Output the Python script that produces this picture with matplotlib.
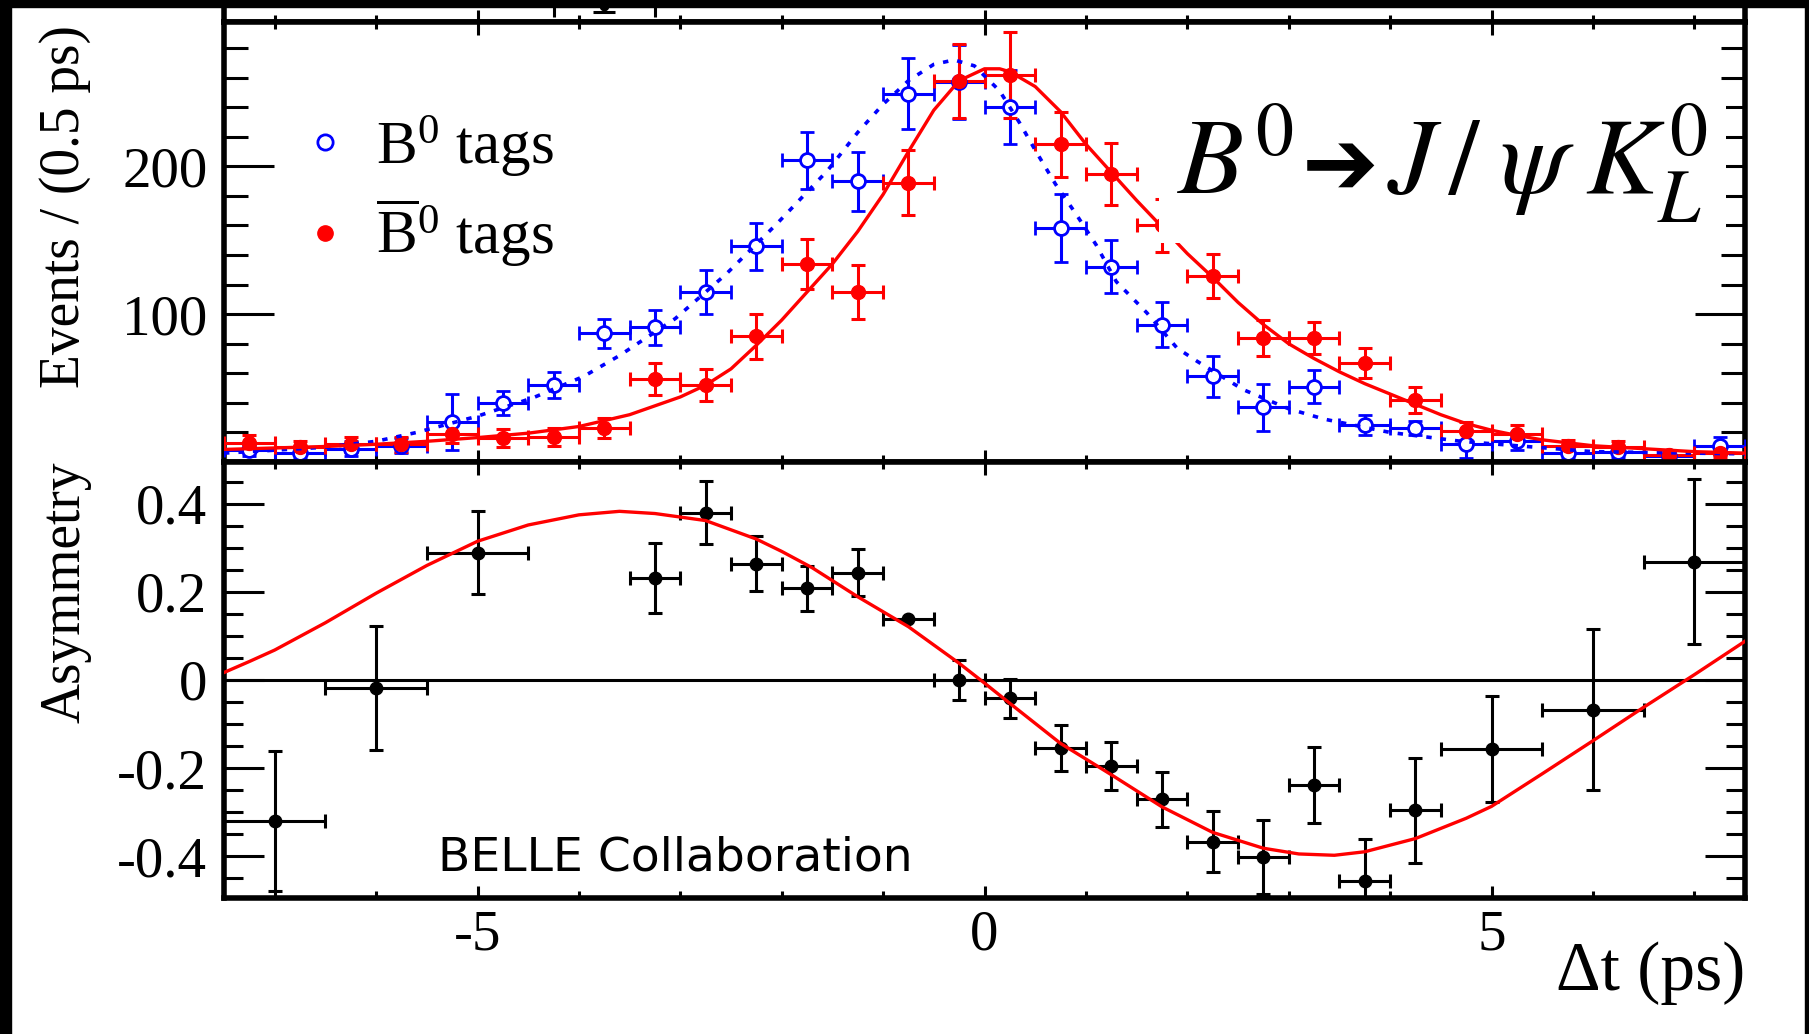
import matplotlib
matplotlib.use('Agg')
import matplotlib.pyplot as plt
from matplotlib.lines import Line2D
from matplotlib.patches import Rectangle
from matplotlib.offsetbox import TextArea, HPacker, AnnotationBbox
from matplotlib.ticker import MultipleLocator, FixedLocator, FormatStrFormatter

plt.rcParams['font.family'] = ['Liberation Serif', 'DejaVu Sans']
plt.rcParams['mathtext.fontset'] = 'stix'
plt.rcParams['axes.unicode_minus'] = False

# --- top panel: events per 0.5 ps bin ---
t_bins = [-7.25, -6.75, -6.25, -5.75, -5.25, -4.75, -4.25, -3.75, -3.25, -2.75,
          -2.25, -1.75, -1.25, -0.75, -0.25, 0.25, 0.75, 1.25, 1.75, 2.25,
          2.75, 3.25, 3.75, 4.25, 4.75, 5.25, 5.75, 6.25, 6.75, 7.25]
b0_n = [8, 6, 9, 11, 27, 40, 52, 87, 91, 115, 146, 204, 190, 249, 257,
        240, 158, 132, 93, 58, 37, 51, 25, 23, 12, 14, 6, 7, 4, 11]
b0_err = [4, 4, 5, 5, 19, 8, 9, 10, 12, 15, 16, 19, 20, 24, 25,
          25, 23, 18, 15, 14, 16, 11, 7, 5, 9, 6, 4, 4, 4, 6]
b0bar_n = [13, 10, 12, 12, 19, 16, 17, 23, 56, 52, 85, 134, 115, 189, 258,
           262, 215, 195, 160, 126, 84, 84, 67, 42, 21, 19, 11, 10, 5, 6]
b0bar_err = [5, 4, 5, 5, 6, 6, 6, 7, 11, 11, 15, 17, 18, 22, 25,
             29, 22, 21, 18, 15, 12, 11, 10, 9, 6, 6, 4, 4, 3, 3]
bin_half = 0.25

# fit curves
fit_bar_t = [-7.5, -7.0, -6.5, -6.0, -5.5, -5.0, -4.5, -4.0, -3.5, -3.0, -2.75, -2.5,
             -2.25, -2.0, -1.75, -1.5, -1.25, -1.0, -0.75, -0.5, -0.25, 0.0, 0.15,
             0.25, 0.5, 0.75, 1.0, 1.25, 1.5, 1.75, 2.0, 2.25, 2.5, 2.75, 3.0, 3.25,
             3.5, 3.75, 4.0, 4.25, 4.5, 4.75, 5.0, 5.25, 5.5, 5.75, 6.0, 6.5, 7.0, 7.5]
fit_bar_n = [8.5, 9.5, 10.5, 12, 14, 16.5, 19.5, 24, 32, 44, 52, 63,
             79, 96, 115, 134, 156, 181, 210, 238, 258, 266, 266,
             264, 254, 237, 215, 196, 177, 159, 141, 125, 108, 93, 80, 70,
             61, 53, 46, 39, 32, 26, 21.5, 18, 15, 13, 11, 9, 7, 6]
fit_b0_t = [-7.5, -7.0, -6.5, -6.0, -5.6, -5.0, -4.45, -3.95, -3.6, -3.05, -2.55,
            -2.05, -1.8, -1.55, -1.25, -1.0, -0.75, -0.5, -0.3, -0.1, 0.15, 0.35,
            0.5, 0.7, 0.9, 1.1, 1.3, 1.6, 1.9, 2.1, 2.55, 3.0, 3.35, 4.0, 4.7,
            5.25, 6.0, 7.5]
fit_b0_n = [6, 8, 10, 14, 20, 31, 43.5, 58, 72, 97, 127,
            161, 179, 197, 223, 242, 258, 269, 272, 268, 251, 229,
            211, 188, 168, 147, 122, 101, 77, 68, 49, 36, 29, 20, 14,
            11, 7, 5.5]

# --- bottom panel: asymmetry ---
asym_t = [-7.0, -6.0, -5.0, -3.25, -2.75, -2.25, -1.75, -1.25, -0.75, -0.25, 0.25,
          0.75, 1.25, 1.75, 2.25, 2.75, 3.25, 3.75, 4.25, 5.0, 6.0, 7.0]
asym_terr = [0.5, 0.5, 0.5, 0.25, 0.25, 0.25, 0.25, 0.25, 0.25, 0.25, 0.25,
             0.25, 0.25, 0.25, 0.25, 0.25, 0.25, 0.25, 0.25, 0.5, 0.5, 0.5]
asym_a = [-0.32, -0.019, 0.289, 0.232, 0.380, 0.264, 0.208, 0.244, 0.138, 0.0, -0.042,
          -0.154, -0.195, -0.271, -0.367, -0.403, -0.239, -0.457, -0.296, -0.157, -0.067, 0.269]
asym_err = [0.159, 0.141, 0.094, 0.08, 0.072, 0.063, 0.051, 0.054, 0.0, 0.045, 0.044,
            0.052, 0.054, 0.062, 0.07, 0.084, 0.086, 0.095, 0.12, 0.12, 0.182, 0.187]
asym_fit_t = [-7.5, -7.25, -7.0, -6.75, -6.5, -6.0, -5.5, -5.0, -4.5, -4.0, -3.6, -3.25,
              -2.75, -2.25, -2.0, -1.7, -1.25, -0.75, -0.25, 0.0, 0.25, 0.75, 1.25, 1.75,
              2.25, 2.75, 3.1, 3.45, 3.75, 4.25, 4.75, 5.0, 5.5, 6.0, 6.5, 6.75, 7.0,
              7.25, 7.5]
asym_fit_a = [0.017, 0.042, 0.068, 0.099, 0.13, 0.197, 0.26, 0.315, 0.352, 0.375, 0.383,
              0.378, 0.362, 0.32, 0.292, 0.255, 0.189, 0.121, 0.038, -0.007, -0.053,
              -0.144, -0.215, -0.288, -0.346, -0.382, -0.395, -0.398, -0.39, -0.36,
              -0.314, -0.287, -0.213, -0.138, -0.062, -0.025, 0.012, 0.05, 0.088]

# bit of the panel above that is cut off
upper_t = [-3.75]
upper_v = [0.7]
upper_terr = [0.5]
upper_err = [0.25]

W, H = 1809, 1034
fig = plt.figure(figsize=(W / 100, H / 100), dpi=100)
left = 224 / W
width = (1745 - 224) / W
ax0 = fig.add_axes([left, 1 - 21.5 / H, width, 21.5 / H])
ax1 = fig.add_axes([left, 1 - 462 / H, width, (462 - 21.5) / H])
ax2 = fig.add_axes([left, 1 - 898 / H, width, (898 - 462) / H])

err_kw = dict(elinewidth=2.2, capsize=4.7, capthick=2.2)

# top panel
ax1.errorbar(t_bins, b0_n, xerr=bin_half, yerr=b0_err, fmt='o', ms=10, mew=2,
             mfc='white', mec='blue', ecolor='blue', zorder=3, **err_kw)
ax1.errorbar(t_bins, b0bar_n, xerr=bin_half, yerr=b0bar_err, fmt='o', ms=10,
             color='red', zorder=3, **err_kw)
ax1.plot(fit_b0_t, fit_b0_n, color='blue', lw=2.6, ls=(0, (1.5, 2.5)), zorder=4)
ax1.plot(fit_bar_t, fit_bar_n, color='red', lw=2.4, zorder=4)

# bottom panel
ax2.axhline(0, color='black', lw=2.2, zorder=1)
ax2.errorbar(asym_t, asym_a, xerr=asym_terr, yerr=asym_err, fmt='o', ms=9,
             color='black', zorder=3, **err_kw)
ax2.plot(asym_fit_t, asym_fit_a, color='red', lw=2.4, zorder=4)

# sliver of the upper panel
ax0.errorbar(upper_t, upper_v, xerr=upper_terr, yerr=upper_err, fmt='o', ms=6,
             color='black', elinewidth=2.2, capsize=8, capthick=2.2)

for ax in (ax0, ax1, ax2):
    ax.set_xlim(-7.5, 7.5)
    for s in ax.spines.values():
        s.set_linewidth(4)
    ax.xaxis.set_major_locator(MultipleLocator(5))
    ax.xaxis.set_minor_locator(MultipleLocator(1))

ax0.set_ylim(0, 1)
ax0.set_yticks([])
ax0.tick_params(axis='x', which='both', direction='in', bottom=True, top=False,
                labelbottom=False, width=2.2)
ax0.tick_params(axis='x', which='major', length=9)
ax0.tick_params(axis='x', which='minor', length=5)

ax1.set_ylim(0, 298)
ax1.yaxis.set_major_locator(FixedLocator([100, 200]))
ax1.yaxis.set_minor_locator(MultipleLocator(20))
ax1.yaxis.set_major_formatter(FormatStrFormatter('%d'))
ax1.tick_params(axis='both', which='both', direction='in', top=True, right=True,
                width=2.2, labelbottom=False, labelsize=41, pad=12)
ax1.tick_params(axis='x', which='major', length=9)
ax1.tick_params(axis='x', which='minor', length=5)
ax1.tick_params(axis='y', which='major', length=36)
ax1.tick_params(axis='y', which='minor', length=17)

ax2.set_ylim(-0.495, 0.495)
ax2.yaxis.set_major_locator(MultipleLocator(0.2))
ax2.yaxis.set_minor_locator(MultipleLocator(0.05))
ax2.yaxis.set_major_formatter(FormatStrFormatter('%g'))
ax2.tick_params(axis='both', which='both', direction='in', top=True, right=True,
                width=2.2, labelsize=41)
ax2.tick_params(axis='x', which='major', length=9, pad=8)
ax2.tick_params(axis='x', which='minor', length=5)
ax2.tick_params(axis='y', which='major', length=29, pad=12)
ax2.tick_params(axis='y', which='minor', length=14)

# legend
handles = [Line2D([], [], ls='none', marker='o', ms=11, mew=2, mfc='white', mec='blue'),
           Line2D([], [], ls='none', marker='o', ms=11, color='red')]
labels = [r'$\mathregular{B^0}$ tags', r'$\mathregular{\overline{B}^0}$ tags']
ax1.legend(handles, labels, loc='upper left', bbox_to_anchor=(0.0513, 0.79),
           frameon=False, prop={'size': 44}, handlelength=0.74, handletextpad=0.47,
           labelspacing=0.3, borderpad=0, borderaxespad=0)

# decay label
ta1 = TextArea(r'$B^0$', textprops=dict(fontsize=78))
ta2 = TextArea('\u2794', textprops=dict(fontsize=66, family='DejaVu Sans'))
ta3 = TextArea(r'$J\,/\;\psi\;K_L^0$', textprops=dict(fontsize=78))
pack = HPacker(children=[ta1, ta2, ta3], align='baseline', pad=0, sep=6)
ab = AnnotationBbox(pack, (0.6266, 0.538), xycoords='axes fraction', box_alignment=(0, 0),
                    frameon=True, pad=1.3, zorder=5,
                    bboxprops=dict(facecolor='white', edgecolor='none'))
ax1.add_artist(ab)

ax2.text(0.1407, 0.064, 'BELLE Collaboration', transform=ax2.transAxes,
         family='DejaVu Sans', fontsize=34, va='baseline')

fig.text(65 / W, 1 - 206 / H, 'Events / (0.5 ps)', rotation=90, ha='center',
         va='center', fontsize=40)
fig.text(66 / W, 1 - 592 / H, 'Asymmetry', rotation=90, ha='center',
         va='center', fontsize=40)
fig.text(1745 / W, 1 - 990 / H, '\u0394t (ps)', ha='right', va='baseline', fontsize=50)

# black border of the scanned figure
for x, y, w, h in [(0, 0, 11 / W, 1), (0, 1 - 7 / H, 1, 7 / H), (1 - 4 / W, 0, 4 / W, 1)]:
    fig.add_artist(Rectangle((x, y), w, h, transform=fig.transFigure,
                             color='black', zorder=10))

fig.savefig('out.png', dpi=100)
